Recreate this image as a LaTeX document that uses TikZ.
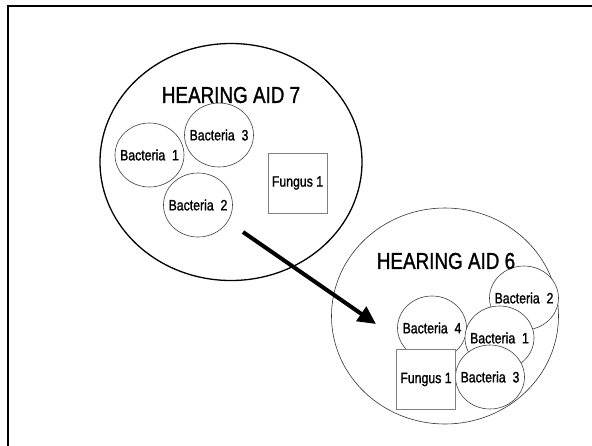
\documentclass[tikz,border=0pt]{standalone}
\usepackage{fontspec}
\setmainfont[FakeStretch=0.82,FakeBold=1.2]{Liberation Sans}
\usetikzlibrary{arrows,arrows.meta,shapes}
\usetikzlibrary{positioning}
\tikzstyle{aid}=[ellipse,draw=black,line width=1.3pt,inner sep=0pt]
\tikzstyle{germ}=[ellipse,draw=black!75,fill=white,line width=0.6pt,minimum width=69pt,minimum height=64pt,inner sep=0pt,font=\fontsize{15}{17}\selectfont]
\tikzstyle{mould}=[rectangle,draw=black!50,fill=white,line width=0.8pt,minimum width=59pt,minimum height=60pt,inner sep=0pt,font=\fontsize{15}{17}\selectfont]
\tikzstyle{title}=[font=\fontsize{23}{27}\selectfont]
\tikzstyle{move}=[draw,line width=4pt,-{Triangle[length=18pt,width=17pt]}]

\begin{document}
\begin{tikzpicture}[x=1pt,y=-1pt]
    \useasboundingbox (0,0) rectangle (592,445);
    \draw[line width=2.5pt] (8,460) -- (8,6) -- (610,6);

    % the two hearing aids
    \node[aid,minimum width=262pt,minimum height=237pt] (aid7) at (231,162) {};
    \node[aid,draw=black!80,line width=0.6pt,minimum width=227pt,minimum height=216pt] (aid6) at (445,316) {};

    \foreach \pos/\name/\label in {{(149.5,155)/a1/1}, {(219,135)/a3/3}, {(198,205)/a2/2}}
        \node[germ] (\name) at \pos {\makebox[0pt]{Bacteria\ \ \label}};
    \node[mould] (afungus) at (297.5,183) {Fungus 1};

    \foreach \pos/\name/\label in {{(524,298)/b2/2}, {(432,328)/b4/4}, {(499.5,338)/b1/1}, {(490,377)/b3/3}}
        \node[germ] (\name) at \pos {\makebox[0pt]{Bacteria\ \ \label}};
    \node[mould] (bfungus) at (426,379.5) {Fungus 1};

    \node[title] (t7) at (231,95) {HEARING AID 7};
    \node[title] (t6) at (446,261) {HEARING AID 6};

    \coordinate (from) at (243,232);
    \coordinate (to) at (376,324);
    \path[move] (from) -- (to);
\end{tikzpicture}
\end{document}
